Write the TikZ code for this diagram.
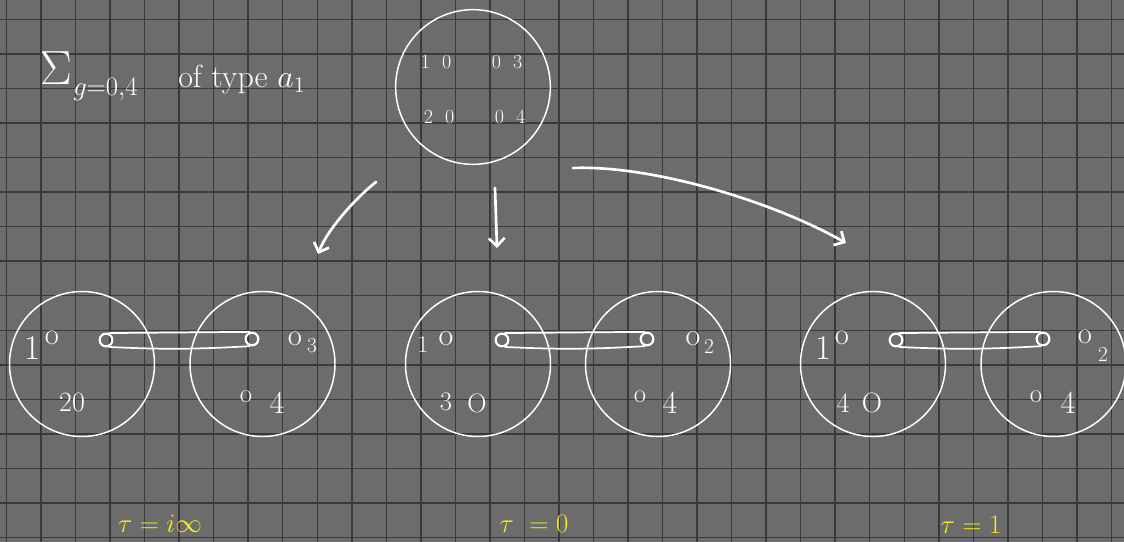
\RequirePackage{fix-cm}
\documentclass[tikz,border=0pt]{standalone}
\usepackage{fontspec}
\usetikzlibrary{arrows.meta}
\definecolor{bg}{RGB}{108,108,108}
\definecolor{gridc}{RGB}{58,58,58}
\definecolor{hl}{RGB}{250,240,20}
\newcommand{\myfs}[1]{\fontsize{#1}{#1}\selectfont}
\tikzset{
  gridline/.style={gridc, line width=1.1pt},
  disc/.style={circle, draw=white, line width=1.1pt, minimum size=108.75pt, inner sep=0pt},
  topdisc/.style={circle, draw=white, line width=1.1pt, minimum size=116pt, inner sep=0pt},
  ring/.style={circle, draw=white, line width=1.6pt, minimum size=9.5pt, inner sep=0pt},
  tube/.style={white, line width=1.3pt},
  arr/.style={white, line width=2pt, line cap=round, line join=round, -{Straight Barb[length=6pt,width=12pt]}},
  lbl/.style={text=white, inner sep=0pt},
  tau/.style={text=hl, inner sep=0pt, font=\myfs{20}},
}
\begin{document}
\begin{tikzpicture}[x=0.75pt,y=-0.75pt]
\useasboundingbox (0,0) rectangle (1124,542);
\fill[bg] (0,0) rectangle (1124,542);
\foreach \i in {0,...,32} \draw[gridline] ({6.5+34.53*\i},0) -- ++(0,542);
\foreach \j in {0,...,15} \draw[gridline] (0,{19.3+34.55*\j}) -- ++(1124,0);

% title
\node[lbl, font=\myfs{36}] (sig) at (56,68) {$\Sigma$};
\node[lbl, font=\myfs{20}, anchor=base west] (sub) at (73,95) {$g{=}0{,}4$};
\node[lbl, font=\myfs{24}, anchor=base west] (typ) at (178,88) {of type $a_1$};

% top circle
\node[topdisc] (top) at (473,87) {};
\node[lbl, font=\myfs{15}] (t1) at (436,62) {1\ \ 0};
\node[lbl, font=\myfs{15}] (t3) at (507,62) {0\ \ 3};
\node[lbl, font=\myfs{15}] (t2) at (439,117) {2\ \ 0};
\node[lbl, font=\myfs{15}] (t4) at (510,117) {0\ \ 4};

% arrows
\coordinate (aLs) at (376,182);
\coordinate (aLe) at (318,254);
\coordinate (aMs) at (495,188);
\coordinate (aMe) at (497,248);
\coordinate (aRs) at (573,168);
\coordinate (aRe) at (846,243);
\draw[arr] (aLs) .. controls (358,196) and (328,228) .. (aLe);
\draw[arr] (aMs) -- (aMe);
\draw[arr] (aRs) .. controls (650,165) and (770,200) .. (aRe);

% pair 1
\node[disc] (c1a) at (82,364) {};
\node[disc] (c1b) at (262.5,364) {};
\node[ring] (r1L) at (106,340) {};
\node[ring] (r1R) at (252,339) {};
\draw[tube] (r1L.70) -- (r1R.105);
\draw[tube] (r1L.-70) to[bend right=3] (r1R.-105);
\node[lbl, font=\myfs{26}] (p1a) at (32,348) {1};
\node[lbl, font=\myfs{23}] (p1b) at (52,338) {o};
\node[lbl, font=\myfs{21}] (p1c) at (72,402) {20};
\node[lbl, font=\myfs{20}] (p1d) at (246,397) {o};
\node[lbl, font=\myfs{24}] (p1e) at (277,403) {4};
\node[lbl, font=\myfs{23}] (p1f) at (295,339) {o};
\node[lbl, font=\myfs{16}] (p1g) at (312,346) {3};

% pair 2
\node[disc] (c2a) at (478,364) {};
\node[disc] (c2b) at (658,364) {};
\node[ring] (r2L) at (502,340) {};
\node[ring] (r2R) at (647,339) {};
\draw[tube] (r2L.70) -- (r2R.105);
\draw[tube] (r2L.-70) to[bend right=3] (r2R.-105);
\node[lbl, font=\myfs{18}] (p2a) at (423,345) {1};
\node[lbl, font=\myfs{24}] (p2b) at (446,339) {o};
\node[lbl, font=\myfs{20}] (p2c) at (446,402) {3};
\node[lbl, font=\myfs{20}] (p2d) at (477,403) {O};
\node[lbl, font=\myfs{20}] (p2e) at (640,397) {o};
\node[lbl, font=\myfs{24}] (p2f) at (670,403) {4};
\node[lbl, font=\myfs{24}] (p2g) at (693,339) {o};
\node[lbl, font=\myfs{16}] (p2h) at (709,346) {2};

% pair 3
\node[disc] (c3a) at (873,364) {};
\node[disc] (c3b) at (1053.5,364) {};
\node[ring] (r3L) at (896,340) {};
\node[ring] (r3R) at (1043,339) {};
\draw[tube] (r3L.70) -- (r3R.105);
\draw[tube] (r3L.-70) to[bend right=3] (r3R.-105);
\node[lbl, font=\myfs{26}] (p3a) at (823,348) {1};
\node[lbl, font=\myfs{23}] (p3b) at (842,338) {o};
\node[lbl, font=\myfs{21}] (p3c) at (843,403) {4};
\node[lbl, font=\myfs{21}] (p3d) at (872,403) {O};
\node[lbl, font=\myfs{20}] (p3e) at (1036,397) {o};
\node[lbl, font=\myfs{24}] (p3f) at (1068,403) {4};
\node[lbl, font=\myfs{23}] (p3g) at (1085,337) {o};
\node[lbl, font=\myfs{16}] (p3h) at (1103,354) {2};

% tau labels
\node[tau] (tauA) at (160,524) {$\tau=i\infty$};
\node[tau] (tauB) at (534,524) {$\tau\ =0$};
\node[tau] (tauC) at (971,525) {$\tau= 1$};
\end{tikzpicture}
\end{document}
